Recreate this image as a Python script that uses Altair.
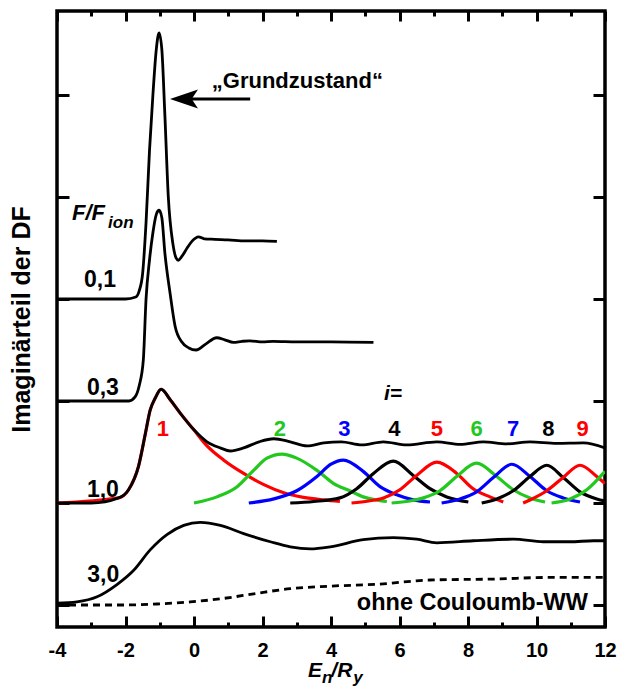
import altair as alt
import pandas as pd

# ---------------- data ----------------
# x in E_n/R_y ; y in stacked units (one left tick = 1)
f01_x = [-4, -2.0, -1.7, -1.6, -1.5, -1.4, -1.3, -1.2, -1.1, -1.02, -0.94, -0.85, -0.75,
         -0.62, -0.52, -0.46, -0.35, -0.2, -0.05, 0.13, 0.3, 0.6, 1.0, 1.5, 2.0, 2.42]
f01_y = [3.0, 3.0, 3.02, 3.08, 3.25, 3.75, 4.45, 5.0, 5.45, 5.61, 5.45, 4.8, 4.0,
         3.55, 3.4, 3.38, 3.42, 3.5, 3.57, 3.61, 3.59, 3.585, 3.58, 3.57, 3.57, 3.565]

f03_x = [-4, -1.9, -1.72, -1.6, -1.48, -1.4, -1.3, -1.2, -1.1, -1.02, -0.94, -0.85, -0.7,
         -0.55, -0.36, -0.15, 0.06, 0.35, 0.66, 0.9, 1.15, 1.4, 1.63, 2.0, 2.31, 3.0, 4.0, 5.24]
f03_y = [2.0, 2.0, 2.04, 2.15, 2.4, 3.0, 3.38, 3.65, 3.83, 3.87, 3.8, 3.45, 3.06,
         2.73, 2.58, 2.52, 2.5, 2.56, 2.62, 2.6, 2.575, 2.585, 2.59, 2.58, 2.585, 2.58, 2.58, 2.575]

f10_x = [-4, -3, -2.2, -1.91, -1.62, -1.42, -1.28, -1.13, -0.96, -0.69, -0.4, -0.01, 0.38,
         0.77, 1.06, 1.45, 1.9, 2.33, 2.81, 3.3, 3.79, 4.3, 4.9, 5.53, 6.21, 7.09, 7.77, 8.45,
         9.13, 9.81, 10.59, 11.37, 12]
f10_y = [1.0, 1.0, 1.05, 1.13, 1.36, 1.68, 1.91, 2.03, 2.115, 2.01, 1.88, 1.72, 1.6,
         1.54, 1.51, 1.54, 1.6, 1.63, 1.6, 1.56, 1.59, 1.6, 1.57, 1.6, 1.57, 1.6, 1.575, 1.6,
         1.58, 1.6, 1.585, 1.59, 1.54]

f30_x = [-4, -3.42, -2.83, -2.25, -1.76, -1.28, -0.79, -0.3, 0.18, 0.77, 1.45, 2.23, 2.81,
         3.4, 3.98, 4.94, 5.82, 6.5, 7.09, 8.15, 9.32, 10.2, 10.98, 11.66, 12]
f30_y = [0.017, 0.03, 0.08, 0.2, 0.34, 0.54, 0.69, 0.78, 0.81, 0.78, 0.7, 0.62, 0.57,
         0.55, 0.57, 0.64, 0.66, 0.645, 0.61, 0.63, 0.645, 0.62, 0.62, 0.63, 0.63]

free_x = [-4, -2.05, -1.08, -0.11, 0.87, 1.84, 2.81, 3.98, 5.43, 6.89, 8.84, 10.3, 12]
free_y = [0.0, 0.0, 0.01, 0.03, 0.065, 0.115, 0.16, 0.185, 0.205, 0.245, 0.255, 0.27, 0.27]

# components i = 1 .. 10 of the F/F_ion = 1,0 spectrum
c1_x = [-4, -2.2, -1.91, -1.62, -1.42, -1.28, -1.13, -0.96, -0.69, -0.4, -0.01, 0.38, 0.87,
        1.45, 2.04, 2.62, 3.2, 3.79, 4.26]
c1_y = [1.0, 1.05, 1.13, 1.36, 1.68, 1.91, 2.03, 2.115, 2.01, 1.88, 1.72, 1.56, 1.42,
        1.29, 1.18, 1.1, 1.055, 1.03, 1.015]
c2_x = [0, 0.67, 1.26, 1.74, 2.13, 2.57, 3.0, 3.59, 4.08, 4.55, 4.94, 5.3, 5.63]
c2_y = [1.0, 1.06, 1.16, 1.32, 1.44, 1.48, 1.44, 1.32, 1.19, 1.12, 1.06, 1.03, 1.015]
c3_x = [1.6, 2.33, 3.0, 3.59, 4.0, 4.36, 4.94, 5.43, 5.92, 6.4, 6.89]
c3_y = [1.0, 1.04, 1.12, 1.26, 1.38, 1.42, 1.31, 1.16, 1.08, 1.03, 1.01]
c4_x = [2.81, 3.5, 4.26, 4.75, 5.24, 5.82, 6.4, 6.89, 7.38, 8.01]
c4_y = [1.0, 1.015, 1.05, 1.14, 1.29, 1.41, 1.27, 1.14, 1.06, 1.01]
c5_x = [4.6, 5.1, 5.53, 6.01, 6.5, 7.09, 7.67, 8.15, 8.64, 9.03]
c5_y = [1.0, 1.02, 1.05, 1.13, 1.27, 1.4, 1.29, 1.14, 1.06, 1.01]
c6_x = [5.77, 6.3, 6.7, 7.18, 7.67, 8.25, 8.84, 9.32, 9.81, 10.25]
c6_y = [1.0, 1.02, 1.05, 1.12, 1.26, 1.39, 1.26, 1.13, 1.05, 1.01]
c7_x = [7.23, 7.77, 8.25, 8.74, 9.28, 9.81, 10.3, 10.78, 11.27]
c7_y = [1.0, 1.04, 1.11, 1.25, 1.38, 1.26, 1.12, 1.05, 1.01]
c8_x = [8.4, 8.84, 9.32, 9.81, 10.3, 10.78, 11.27, 11.76, 12.0]
c8_y = [1.0, 1.04, 1.12, 1.26, 1.37, 1.25, 1.11, 1.04, 1.02]
c9_x = [9.61, 9.81, 10.3, 10.78, 11.27, 11.76, 12.0]
c9_y = [1.0, 1.03, 1.12, 1.25, 1.37, 1.26, 1.19]
c10_x = [10.44, 10.98, 11.47, 12.0]
c10_y = [1.0, 1.04, 1.13, 1.31]

RED, GREEN, BLUE, BLACK = "#ff0000", "#22c81e", "#0000ff", "#000000"
comp_names = ["c1", "c2", "c3", "c4", "c5", "c6", "c7", "c8", "c9", "c10"]
comp_colors = [RED, GREEN, BLUE, BLACK, RED, GREEN, BLUE, BLACK, RED, GREEN]
comp_xy = [(c1_x, c1_y), (c2_x, c2_y), (c3_x, c3_y), (c4_x, c4_y), (c5_x, c5_y),
           (c6_x, c6_y), (c7_x, c7_y), (c8_x, c8_y), (c9_x, c9_y), (c10_x, c10_y)]

# labels
lab_text = ["0,1", "0,3", "1,0", "3,0"]
lab_x = [-2.745, -2.66, -2.66, -2.65]
lab_y = [3.118, 2.06, 1.06, 0.225]

num_text = ["1", "2", "3", "4", "5", "6", "7", "8", "9"]
num_x = [-0.91, 2.51, 4.39, 5.85, 7.09, 8.25, 9.32, 10.35, 11.35]
num_y = [1.655] * 9
num_colors = [RED, GREEN, BLUE, BLACK, RED, GREEN, BLUE, BLACK, RED]

# arrow annotation
arrow_x, arrow_x2, arrow_y = -0.5, 1.64, 4.96
arrowhead_x = -0.292

X_DOM = [-4, 12]
Y_DOM = [-0.2157, 5.8235]
major_x = [-4, -2, 0, 2, 4, 6, 8, 10, 12]
minor_x = [-3, -1, 1, 3, 5, 7, 9, 11]
major_y = [0, 1, 2, 3, 4, 5]

FONT = "Liberation Sans"

# ---------------- tables ----------------
def table(name, xs, ys):
    return pd.DataFrame({"x": xs, "y": ys, "s": name})

comp_df = pd.concat([table(n, xy[0], xy[1]) for n, xy in zip(comp_names, comp_xy)],
                    ignore_index=True)
black_df = pd.concat([table("f01", f01_x, f01_y), table("f03", f03_x, f03_y),
                      table("f10", f10_x, f10_y), table("f30", f30_x, f30_y)],
                     ignore_index=True)
free_df = table("free", free_x, free_y)
lab_df = pd.DataFrame({"x": lab_x, "y": lab_y, "t": lab_text})
num_df = pd.DataFrame({"x": num_x, "y": num_y, "t": num_text})

xsc = alt.Scale(domain=X_DOM, nice=False, zero=False)
ysc = alt.Scale(domain=Y_DOM, nice=False, zero=False)


def tick_axis(orient, values, size, labels=False, title=None):
    kw = dict(orient=orient, values=values, tickSize=size, offset=-size, tickWidth=3,
              tickColor="black", domain=False, grid=False, labels=labels)
    if labels:
        kw.update(labelFont=FONT, labelFontSize=20, labelFontWeight="bold",
                  labelColor="black", labelPadding=13, labelFlush=False,
                  labelExpr="'' + datum.value")
    if title:
        kw.update(title=title, titleFont=FONT, titleFontSize=25, titleFontWeight="bold",
                  titleColor="black", titlePadding=21)
    else:
        kw.update(title=None)
    return alt.Axis(**kw)


comp_layer = alt.Chart(comp_df).mark_line(strokeWidth=3.2, interpolate="monotone", clip=True).encode(
    x=alt.X("x:Q", scale=xsc, axis=tick_axis("bottom", major_x, 11, labels=True)),
    y=alt.Y("y:Q", scale=ysc, axis=tick_axis("left", major_y, 12, title="Imaginärteil der DF")),
    color=alt.Color("s:N", scale=alt.Scale(domain=comp_names, range=comp_colors), legend=None),
)

black_layer = alt.Chart(black_df).mark_line(strokeWidth=2.8, interpolate="monotone", color="black",
                                            clip=True).encode(
    x=alt.X("x:Q", scale=xsc, axis=tick_axis("bottom", minor_x, 5)),
    y=alt.Y("y:Q", scale=ysc, axis=tick_axis("right", major_y, 12)),
    detail="s:N",
)

free_layer = alt.Chart(free_df).mark_line(strokeWidth=2.8, interpolate="monotone", color="black",
                                          strokeDash=[7, 5], clip=True).encode(
    x=alt.X("x:Q", scale=xsc, axis=tick_axis("top", major_x, 10)),
    y=alt.Y("y:Q", scale=ysc, axis=None),
)

lab_layer = alt.Chart(lab_df).mark_text(font=FONT, fontSize=23, fontWeight="bold", color="black",
                                        align="center", baseline="alphabetic").encode(
    x=alt.X("x:Q", scale=xsc, axis=tick_axis("top", minor_x, 5)),
    y=alt.Y("y:Q", scale=ysc, axis=None),
    text="t:N",
)

num_layer = alt.Chart(num_df).mark_text(font=FONT, fontSize=22, fontWeight="bold",
                                        align="center", baseline="alphabetic").encode(
    x=alt.X("x:Q", scale=xsc, axis=None),
    y=alt.Y("y:Q", scale=ysc, axis=None),
    text="t:N",
    color=alt.Color("t:N", scale=alt.Scale(domain=num_text, range=num_colors), legend=None),
)


def note(text, x, y, size, align="left", italic=False):
    return alt.Chart(pd.DataFrame({"x": [x], "y": [y], "t": [text]})).mark_text(
        font=FONT, fontSize=size, fontWeight="bold", fontStyle="italic" if italic else "normal",
        color="black", align=align, baseline="alphabetic").encode(
        x=alt.X("x:Q", scale=xsc, axis=None),
        y=alt.Y("y:Q", scale=ysc, axis=None),
        text="t:N",
    )


notes = [
    note("i=", 5.81, 2.01, 21, align="center", italic=True),
    note("F/F", -3.56, 3.775, 22, italic=True),
    note("ion", -2.51, 3.70, 17, italic=True),
    note("ohne Couloumb-WW", 11.5, -0.049, 23.5, align="right"),
    note("\u201eGrundzustand\u201c", 0.52, 5.066, 22),
    note("E", 3.33, -0.706, 21, italic=True),
    note("n", 3.74, -0.765, 17, italic=True),
    note("/R", 4.01, -0.706, 21, italic=True),
    note("y", 4.65, -0.765, 17, italic=True),
]

shaft = alt.Chart(pd.DataFrame({"x": [arrow_x], "x2": [arrow_x2], "y": [arrow_y]})).mark_rule(
    strokeWidth=3, color="black").encode(
    x=alt.X("x:Q", scale=xsc, axis=None), x2="x2:Q",
    y=alt.Y("y:Q", scale=ysc, axis=None),
)
head = alt.Chart(pd.DataFrame({"x": [arrowhead_x], "y": [arrow_y]})).mark_point(
    shape="M-1,0 L1,-0.68 L0.55,0 L1,0.68 Z", size=784, filled=True, color="black",
    opacity=1, strokeWidth=0).encode(
    x=alt.X("x:Q", scale=xsc, axis=None),
    y=alt.Y("y:Q", scale=ysc, axis=None),
)

chart = alt.layer(comp_layer, black_layer, free_layer, lab_layer, num_layer, shaft, head,
                  *notes).resolve_axis(x="independent", y="independent").properties(
    width=548, height=616,
    autosize=alt.AutoSizeParams(type="none"),
    padding={"left": 57, "top": 11, "right": 14, "bottom": 68},
).configure_view(stroke="black", strokeWidth=3.5)

chart.save("out.html", embed_options={"renderer": "svg", "actions": False})
